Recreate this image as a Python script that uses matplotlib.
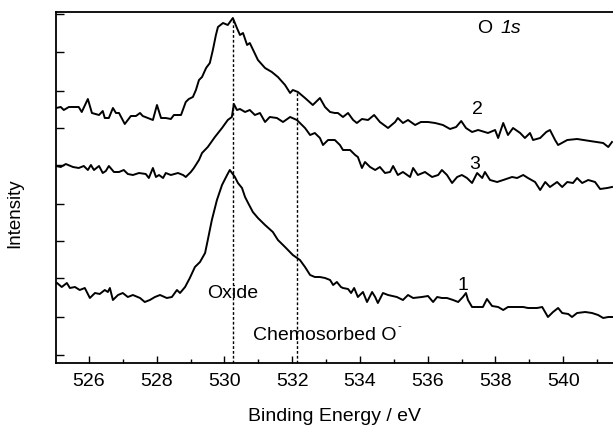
import matplotlib

matplotlib.use("Agg")
import matplotlib.pyplot as plt
from matplotlib.ticker import MultipleLocator

plt.rcParams["font.family"] = ["Liberation Sans", "DejaVu Sans"]

# binding energy (eV) and intensity (arb. units)
energy_2 = [
    525.03, 525.17, 525.26, 525.41, 525.70, 525.79, 525.97, 526.09, 526.30, 526.41,
    526.47, 526.59, 526.71, 526.80, 526.89, 527.06, 527.24, 527.39, 527.51, 527.59,
    527.89, 528.01, 528.13, 528.27, 528.42, 528.51, 528.72, 528.86, 528.95, 529.07,
    529.16, 529.25, 529.34, 529.46, 529.57, 529.66, 529.75, 529.81, 529.96, 530.10,
    530.25, 530.37, 530.46, 530.55, 530.67, 530.75, 530.99, 531.20, 531.40, 531.58,
    531.79, 531.94, 532.02, 532.17, 532.38, 532.61, 532.82, 532.97, 533.12, 533.26,
    533.35, 533.50, 533.65, 533.80, 533.91, 534.06, 534.24, 534.42, 534.59, 534.83,
    535.04, 535.12, 535.27, 535.42, 535.63, 535.80, 536.01, 536.22, 536.45, 536.66,
    536.84, 536.99, 537.13, 537.31, 537.49, 537.78, 537.99, 538.08, 538.23, 538.37,
    538.52, 538.73, 538.87, 539.02, 539.11, 539.32, 539.50, 539.61, 539.76, 539.85,
    540.12, 540.41, 540.79, 541.18, 541.33, 541.44,
]
intensity_2 = [
    255, 256, 253, 256, 256, 251, 264, 250, 248, 252,
    245, 245, 255, 250, 250, 239, 247, 247, 250, 247,
    243, 258, 245, 245, 244, 248, 248, 261, 264, 266,
    273, 283, 286, 295, 300, 313, 328, 336, 340, 338,
    345, 335, 328, 330, 318, 320, 303, 295, 291, 286,
    278, 270, 273, 271, 265, 258, 265, 256, 251, 250,
    250, 246, 250, 243, 240, 244, 243, 248, 241, 235,
    241, 245, 240, 243, 238, 241, 241, 240, 238, 234,
    236, 242, 235, 231, 233, 230, 233, 225, 240, 228,
    235, 230, 225, 230, 223, 225, 231, 233, 223, 218,
    223, 224, 222, 220, 216, 221,
]

energy_3 = [
    525.03, 525.17, 525.32, 525.53, 525.70, 525.85, 525.97, 526.06, 526.15, 526.30,
    526.41, 526.50, 526.59, 526.74, 526.89, 527.03, 527.15, 527.30, 527.48, 527.68,
    527.77, 527.89, 527.98, 528.07, 528.19, 528.27, 528.42, 528.63, 528.78, 528.86,
    529.01, 529.10, 529.25, 529.34, 529.51, 529.72, 529.93, 530.10, 530.22, 530.28,
    530.37, 530.46, 530.61, 530.75, 530.90, 531.05, 531.20, 531.34, 531.55, 531.73,
    531.94, 532.14, 532.38, 532.53, 532.67, 532.82, 532.91, 533.06, 533.26, 533.41,
    533.50, 533.71, 533.86, 533.94, 534.06, 534.15, 534.30, 534.45, 534.59, 534.74,
    534.89, 534.98, 535.12, 535.27, 535.48, 535.57, 535.71, 535.92, 536.13, 536.31,
    536.42, 536.57, 536.72, 536.87, 537.01, 537.16, 537.31, 537.46, 537.61, 537.69,
    537.84, 538.05, 538.23, 538.49, 538.64, 538.82, 538.96, 539.17, 539.32, 539.47,
    539.61, 539.82, 539.97, 540.12, 540.29, 540.41, 540.56, 540.74, 540.94, 541.09,
    541.30, 541.44,
]
intensity_3 = [
    197, 196, 199, 196, 195, 197, 193, 198, 193, 197,
    190, 192, 197, 191, 191, 193, 189, 188, 190, 189,
    185, 195, 186, 188, 185, 190, 188, 190, 188, 186,
    191, 195, 203, 210, 216, 226, 235, 243, 246, 259,
    253, 254, 251, 253, 248, 250, 241, 246, 245, 241,
    246, 243, 235, 228, 230, 225, 218, 223, 223, 218,
    213, 213, 208, 206, 195, 201, 196, 193, 196, 190,
    191, 197, 188, 191, 186, 195, 188, 191, 186, 188,
    193, 188, 180, 186, 188, 185, 180, 190, 185, 191,
    183, 181, 183, 186, 185, 188, 185, 181, 173, 181,
    176, 181, 176, 181, 180, 185, 180, 183, 181, 174,
    175, 176,
]

energy_1 = [
    525.06, 525.20, 525.35, 525.44, 525.59, 525.73, 525.88, 526.03, 526.18, 526.32,
    526.47, 526.56, 526.62, 526.71, 526.86, 527.00, 527.15, 527.30, 527.51, 527.65,
    527.80, 527.95, 528.10, 528.30, 528.45, 528.60, 528.69, 528.84, 528.98, 529.13,
    529.28, 529.43, 529.51, 529.63, 529.78, 529.93, 530.08, 530.16, 530.31, 530.40,
    530.52, 530.61, 530.70, 530.84, 530.99, 531.20, 531.43, 531.58, 531.79, 532.02,
    532.23, 532.38, 532.53, 532.67, 532.82, 532.97, 533.12, 533.21, 533.32, 533.44,
    533.50, 533.65, 533.74, 533.83, 533.94, 534.09, 534.21, 534.36, 534.45, 534.53,
    534.68, 534.83, 535.09, 535.27, 535.42, 535.57, 535.83, 536.01, 536.16, 536.28,
    536.42, 536.57, 536.75, 536.90, 537.04, 537.13, 537.19, 537.31, 537.46, 537.63,
    537.75, 537.90, 538.08, 538.23, 538.37, 538.64, 538.82, 538.96, 539.23, 539.38,
    539.55, 539.70, 539.85, 539.97, 540.15, 540.26, 540.41, 540.65, 540.85, 541.03,
    541.18, 541.33, 541.47,
]
intensity_1 = [
    80, 76, 80, 75, 76, 73, 75, 65, 70, 69,
    73, 71, 75, 63, 68, 70, 66, 68, 65, 61,
    63, 66, 68, 65, 66, 73, 70, 76, 85, 96,
    101, 110, 123, 143, 163, 178, 188, 193, 186, 180,
    175, 166, 160, 151, 145, 138, 131, 123, 116, 108,
    103, 96, 88, 86, 86, 85, 83, 78, 81, 76,
    75, 74, 70, 75, 66, 71, 61, 71, 66, 60,
    70, 68, 66, 63, 68, 65, 66, 67, 61, 66,
    65, 65, 63, 61, 66, 70, 63, 56, 56, 56,
    64, 57, 56, 53, 56, 56, 56, 55, 55, 56,
    46, 51, 55, 50, 49, 46, 50, 51, 50, 48,
    45, 46, 46,
]

# marker lines: (energy, top of the dashed line)
oxide_line = (530.25, 345)
chemo_line = (532.14, 271)

x_major = [526, 528, 530, 532, 534, 536, 538, 540]
y_ticks = [8, 46, 85, 122, 159, 198, 235, 272, 311, 349]

fig = plt.figure(figsize=(6.13, 4.3), dpi=100)
ax = fig.add_axes([56 / 613, 67 / 430, 557 / 613, 351 / 430])

ax.plot(energy_2, intensity_2, color="black", lw=1.4)
ax.plot(energy_3, intensity_3, color="black", lw=1.4)
ax.plot(energy_1, intensity_1, color="black", lw=1.4)

for x, top in (oxide_line, chemo_line):
    ax.vlines(x, 0, top, colors="black", lw=1.0, linestyles=(0, (2, 1.5)))

ax.set_xlim(525.03, 541.47)
ax.set_ylim(0, 351)
ax.set_xticks(x_major)
ax.xaxis.set_minor_locator(MultipleLocator(1))
ax.set_yticks(y_ticks)
ax.set_yticklabels([])
ax.tick_params(axis="x", which="major", direction="in", length=5, width=1,
               labelsize=14, pad=7)
ax.tick_params(axis="x", which="minor", direction="in", length=3, width=1)
ax.tick_params(axis="y", direction="in", length=6, width=1)
ax.spines["right"].set_visible(False)
for side in ("left", "top", "bottom"):
    ax.spines[side].set_linewidth(1.3)

ax.set_xlabel("Binding Energy / eV", fontsize=14, labelpad=13)
fig.text(15 / 613, 1 - 213 / 430, "Intensity", rotation=90, fontsize=13.5,
         ha="center", va="center")

ax.text(529.48, 70, "Oxide", fontsize=14, ha="left", va="center")
ax.text(530.84, 28, "Chemosorbed O", fontsize=14, ha="left", va="center")
ax.text(535.10, 37, "-", fontsize=8, ha="left", va="center")
ax.text(537.46, 253, "2", fontsize=14, ha="center", va="center")
ax.text(537.40, 198, "3", fontsize=14, ha="center", va="center")
ax.text(537.04, 78, "1", fontsize=14, ha="center", va="center")
ax.text(537.46, 334, "O", fontsize=14, ha="left", va="center")
ax.text(538.14, 334, "1s", fontsize=14, ha="left", va="center", style="italic")

fig.savefig("out.png", dpi=100)
plt.close(fig)
